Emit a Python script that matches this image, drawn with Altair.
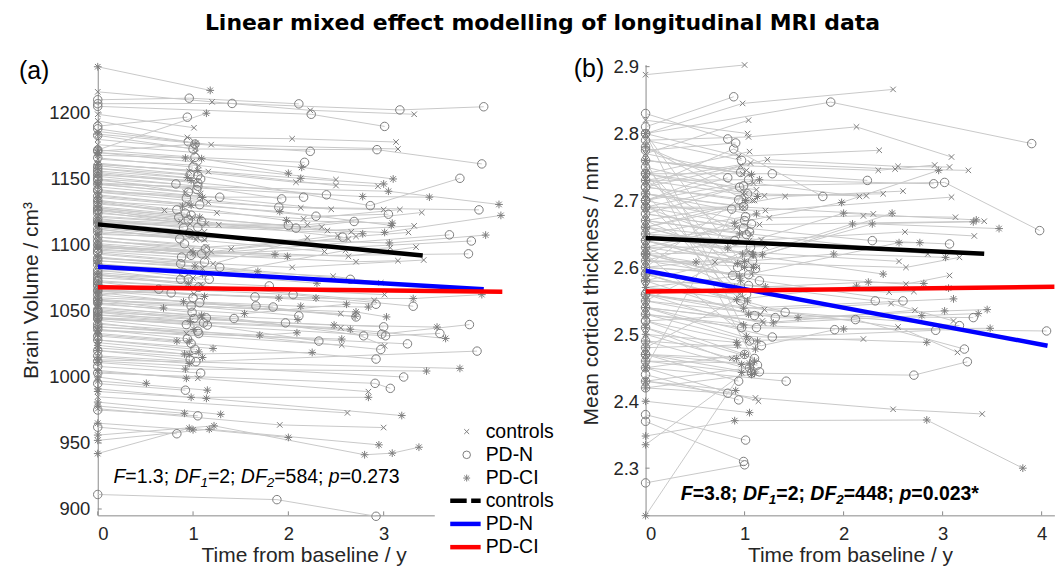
import altair as alt
import pandas as pd

TITLE = "Linear mixed effect modelling of longitudinal MRI data"

# ---------------- Panel (a): brain volume (cm^3) ----------------
A_CONTROLS = [
    ([0, 1.20, 2.23, 3.32], [1216, 1208.4, 1202.0, 1199.0]),
    ([0, 1.01], [1199, 1188.8]),
    ([0, 0.94, 2.04, 3.13], [1194, 1181.5, 1180.5, 1178.0]),
    ([0, 1.19, 3.15], [1186, 1176.0, 1172.7]),
    ([0, 1.02], [1180, 1173.0]),
    ([0, 1.03], [1176, 1170.0]),
    ([0, 0.99], [1170, 1163.0]),
    ([0, 1.06, 2.50], [1165, 1160.2, 1149.5]),
    ([0, 0.96, 2.08, 2.94], [1162, 1155.8, 1147.5, 1144.5]),
    ([0, 1.16, 2.50], [1161, 1155.6, 1145.0]),
    ([0, 1.05], [1155, 1148.0]),
    ([0, 0.92], [1150, 1140.0]),
    ([0, 1.08], [1146, 1139.0]),
    ([0, 1.07, 2.45], [1144, 1137.0, 1127.0]),
    ([0, 1.16, 2.13, 3.00], [1140, 1132.3, 1128.1, 1126.8]),
    ([0, 0.95], [1138, 1131.0]),
    ([0, 0.70], [1133, 1126.2]),
    ([0, 1.25, 2.16, 3.17], [1131, 1124.3, 1119.8, 1126.8]),
    ([0, 0.99, 2.66], [1128, 1121.0, 1110.0]),
    ([0, 1.14, 2.20, 3.40], [1122, 1116.0, 1115.3, 1124.6]),
    ([0, 0.97], [1125, 1116.0]),
    ([0, 1.27, 2.35], [1119, 1115.3, 1113.6]),
    ([0, 0.87], [1127, 1117.9]),
    ([0, 2.41, 3.32], [1121, 1111.0, 1114.5]),
    ([0, 1.12], [1117, 1110.0]),
    ([0, 1.04], [1113, 1106.0]),
    ([0, 1.03, 2.38], [1112, 1104.0, 1095.0]),
    ([0, 1.12], [1109, 1104.0]),
    ([0, 0.98], [1104, 1096.0]),
    ([0, 1.40, 2.52], [1103, 1097.1, 1107.2]),
    ([0, 1.14, 2.63], [1106, 1098.4, 1104.5]),
    ([0, 1.19, 2.71, 3.26], [1101, 1095.0, 1106.5, 1109.5]),
    ([0, 1.15], [1099, 1091.0]),
    ([0, 1.21, 2.20], [1093, 1085.8, 1105.4]),
    ([0, 1.00, 2.60, 3.07], [1084, 1075.0, 1095.9, 1097.9]),
    ([0, 2.63, 3.34], [1098, 1091.4, 1098.4]),
    ([0, 2.71, 3.15], [1096, 1087.3, 1088.1]),
    ([0, 2.04, 3.42], [1090, 1083.0, 1088.6]),
    ([0, 1.10], [1080, 1082.0]),
    ([0, 1.10, 2.90], [1077, 1069.0, 1058.0]),
    ([0, 2.47, 2.97], [1085, 1076.3, 1071.4]),
    ([0, 1.08], [1062, 1070.0]),
    ([0, 1.01], [1068, 1063.0]),
    ([0, 3.01], [1072, 1062.4]),
    ([0, 2.55], [1058, 1048.0]),
    ([0, 1.09], [1053, 1046.0]),
    ([0, 2.55, 3.01], [1045, 1037.2, 1023.6]),
    ([0, 0.93], [1041, 1033.0]),
    ([0, 2.56], [1036, 1024.2]),
    ([0, 1.05, 2.84], [1004, 999.0, 988.9]),
    ([0, 2.62], [985, 972.8]),
    ([0, 1.91, 3.00], [976, 963.7, 961.7]),
]
A_PDN = [
    ([0, 0.96, 2.11], [1210, 1211.2, 1206.9]),
    ([0, 1.41, 3.17, 4.05], [1207, 1207.2, 1202.3, 1204.7]),
    ([0, 2.24, 3.01], [1205, 1199.0, 1189.8]),
    ([0, 0.94], [1190, 1196.8]),
    ([0, 0.95], [1188, 1178.2]),
    ([0, 1.02, 2.23], [1171, 1176.4, 1170.9]),
    ([0, 1.00, 2.93, 4.03], [1183, 1172.7, 1172.2, 1161.4]),
    ([0, 1.02, 2.17], [1172, 1166.4, 1162.6]),
    ([0, 1.00], [1166, 1159.0]),
    ([0, 0.97], [1160, 1153.5]),
    ([0, 1.05, 2.86, 3.80], [1158, 1152.6, 1129.8, 1150.5]),
    ([0, 1.08], [1156, 1150.0]),
    ([0, 1.05, 2.40], [1154, 1147.0, 1138.0]),
    ([0, 0.82], [1150, 1146.2]),
    ([0, 1.04], [1149, 1142.0]),
    ([0, 0.95], [1146, 1140.0]),
    ([0, 1.05, 1.93], [1152, 1144.5, 1134.9]),
    ([0, 0.93, 1.90, 4.00], [1142, 1135.4, 1128.6, 1126.6]),
    ([0, 1.28, 2.16], [1141, 1136.2, 1136.2]),
    ([0, 1.07, 2.29, 3.05], [1137, 1130.5, 1121.8, 1123.3]),
    ([0, 0.83], [1134, 1126.6]),
    ([0, 0.92], [1132, 1124.0]),
    ([0, 0.98], [1129, 1122.6]),
    ([0, 0.85, 2.00], [1127, 1120.9, 1114.8]),
    ([0, 0.95, 2.57], [1126, 1119.0, 1106.0]),
    ([0, 1.09], [1124, 1118.0]),
    ([0, 0.90], [1120, 1113.0]),
    ([0, 1.05, 2.08, 2.69], [1118, 1113.4, 1112.8, 1117.8]),
    ([0, 0.96], [1116, 1109.0]),
    ([0, 1.10], [1110, 1106.0]),
    ([0, 0.86], [1112, 1104.7]),
    ([0, 0.91], [1106, 1100.9]),
    ([0, 1.13], [1103, 1097.0]),
    ([0, 1.09, 3.69], [1100, 1093.3, 1107.7]),
    ([0, 0.98, 3.92], [1097, 1092.2, 1103.0]),
    ([0, 0.88, 3.89], [1095, 1090.8, 1093.3]),
    ([0, 1.12], [1094, 1087.0]),
    ([0, 0.87], [1090, 1085.8]),
    ([0, 1.28, 2.65], [1088, 1083.0, 1074.0]),
    ([0, 0.90], [1085, 1079.0]),
    ([0, 0.87], [1081, 1074.0]),
    ([0, 0.95], [1079, 1074.0]),
    ([0, 1.17], [1077, 1074.0]),
    ([0, 1.80], [1075, 1069.0]),
    ([0, 1.06], [1073, 1068.0]),
    ([0, 0.64], [1072, 1066.5]),
    ([0, 0.77], [1070, 1063.7]),
    ([0, 1.00], [1065, 1060.0]),
    ([0, 1.65, 2.92], [1066, 1060.7, 1055.1]),
    ([0, 2.05, 3.31], [1069, 1062.4, 1053.6]),
    ([0, 1.07, 1.84], [1062, 1056.3, 1053.0]),
    ([0, 0.98, 2.11], [1059, 1053.8, 1046.3]),
    ([0, 1.66, 2.71], [1058, 1053.8, 1045.5]),
    ([0, 0.99], [1056, 1049.0]),
    ([0, 1.01, 1.97, 3.00], [1050, 1044.3, 1041.0, 1038.0]),
    ([0, 1.43, 2.79], [1049, 1044.3, 1031.2]),
    ([0, 1.14, 2.98, 3.90], [1051, 1044.8, 1032.5, 1039.7]),
    ([0, 1.11], [1047, 1041.0]),
    ([0, 0.93, 3.02, 3.59], [1045, 1039.7, 1031.2, 1033.0]),
    ([0, 1.15, 2.32], [1044, 1039.3, 1027.2]),
    ([0, 1.05, 2.97], [1040, 1034.7, 1020.8]),
    ([0, 1.06, 3.25], [1038, 1032.9, 1025.1]),
    ([0, 0.94], [1036, 1029.0]),
    ([0, 0.98, 2.92], [1031, 1025.4, 1013.6]),
    ([0, 1.02], [1028, 1021.0]),
    ([0, 0.97], [1020, 1013.0]),
    ([0, 1.03, 3.98], [1016, 1011.6, 1019.6]),
    ([0, 3.21], [1012, 1000.0]),
    ([0, 1.08], [1008, 1003.0]),
    ([0, 2.91, 3.07], [1003, 995.2, 991.4]),
    ([0, 0.92], [995, 990.0]),
    ([0, 1.05], [975, 970.6]),
    ([0, 0.83], [962, 957.0]),
    ([0, 1.88, 2.92], [911, 907.1, 894.5]),
]
A_PDCI = [
    ([0, 1.18], [1235, 1217.1]),
    ([0, 1.03], [1184, 1177.0]),
    ([0, 1.14], [1172, 1199.8]),
    ([0, 0.92, 2.14, 3.10], [1168, 1165.9, 1158.8, 1150.0]),
    ([0, 1.09, 2.00], [1170, 1165.4, 1154.3]),
    ([0, 1.05, 2.13, 3.00], [1161, 1156.4, 1150.5, 1146.2]),
    ([0, 0.94], [1158, 1151.0]),
    ([0, 0.98], [1153, 1148.8]),
    ([0, 1.10], [1140, 1136.0]),
    ([0, 0.89, 1.98, 3.09], [1133, 1129.4, 1118.6, 1116.5]),
    ([0, 0.98, 1.91, 3.08], [1136, 1130.1, 1125.4, 1114.8]),
    ([0, 1.07], [1128, 1121.0]),
    ([0, 2.78, 3.48], [1147, 1136.7, 1136.2]),
    ([0, 3.05, 4.21], [1146, 1140.7, 1130.7]),
    ([0, 3.01, 4.23], [1118, 1109.5, 1122.4]),
    ([0, 2.78], [1117, 1108.5]),
    ([0, 0.99], [1114, 1107.0]),
    ([0, 3.06, 4.07], [1108, 1101.5, 1107.5]),
    ([0, 1.00], [1100, 1094.0]),
    ([0, 1.86], [1099, 1092.8]),
    ([0, 1.99], [1098, 1091.4]),
    ([0, 1.02], [1091, 1084.0]),
    ([0, 1.68], [1088, 1080.0]),
    ([0, 1.10, 2.30], [1086, 1078.0, 1071.0]),
    ([0, 0.95], [1078, 1071.0]),
    ([0, 1.12], [1070, 1061.0]),
    ([0, 1.90, 3.31, 4.03], [1066, 1059.8, 1059.4, 1062.4]),
    ([0, 2.29], [1065, 1059.8]),
    ([0, 0.90, 2.70], [1064, 1057.0, 1046.0]),
    ([0, 0.69], [1058, 1052.3]),
    ([0, 2.13, 2.84], [1060, 1053.6, 1053.0]),
    ([0, 1.54, 2.61], [1055, 1048.0, 1055.1]),
    ([0, 2.71, 3.03], [1056, 1049.3, 1045.5]),
    ([0, 1.09, 2.10], [1052, 1046.8, 1043.5]),
    ([0, 0.97], [1049, 1042.0]),
    ([0, 2.48, 3.56], [1047, 1039.3, 1037.8]),
    ([0, 2.65, 3.65], [1044, 1036.2, 1029.2]),
    ([0, 1.01], [1043, 1036.0]),
    ([0, 1.70, 2.09], [1038, 1031.7, 1033.5]),
    ([0, 2.56], [1035, 1028.7]),
    ([0, 0.83], [1032, 1027.2]),
    ([0, 0.96], [1033, 1027.2]),
    ([0, 1.21], [1028, 1021.6]),
    ([0, 1.06], [1026, 1019.0]),
    ([0, 0.91, 2.25], [1024, 1017.4, 1018.6]),
    ([0, 0.96], [1022, 1017.1]),
    ([0, 1.10], [1020, 1014.8]),
    ([0, 0.96], [1015, 1010.3]),
    ([0, 0.92, 3.45], [1011, 1006.0, 1004.5]),
    ([0, 3.80], [1013, 1006.5]),
    ([0, 0.93], [1005, 999.0]),
    ([0, 0.51], [1000, 995.2]),
    ([0, 1.15], [997, 990.0]),
    ([0, 0.98, 2.84], [991, 984.6, 984.6]),
    ([0, 1.14, 3.19], [989, 983.8, 970.8]),
    ([0, 0.91], [978, 972.5]),
    ([0, 1.29], [981, 971.7]),
    ([0, 1.00], [965, 960.0]),
    ([0, 0.96, 2.00], [942, 961.2, 954.2]),
    ([0, 1.17, 2.95], [952, 960.4, 948.6]),
    ([0, 1.22, 2.80, 3.09, 3.37], [956, 963.0, 941.1, 942.3, 946.8]),
]
A_FIT = {
    "controls": ([0, 3.41], [1115.6, 1092.0]),
    "PD-N": ([0, 4.05], [1083.5, 1066.5]),
    "PD-CI": ([0, 4.245], [1068.0, 1064.6]),
}
A_XTICKS = [0, 1, 2, 3]
A_YTICKS = [900, 950, 1000, 1050, 1100, 1150, 1200]
A_STATS = [("F", "i"), ("=1.3; ", "n"), ("DF", "i"), ("1", "s"), ("=2; ", "n"),
           ("DF", "i"), ("2", "s"), ("=584; ", "n"), ("p", "i"), ("=0.273", "n")]

# ---------------- Panel (b): mean cortical thickness (mm) ----------------
B_CONTROLS = [
    ([0, 1.00], [2.888, 2.9025]),
    ([0, 0.98, 2.50], [2.80, 2.845, 2.866]),
    ([0, 1.03], [2.82, 2.80]),
    ([0, 1.04], [2.77, 2.82]),
    ([0, 1.04, 2.13, 3.09], [2.79, 2.795, 2.81, 2.765]),
    ([0, 1.05], [2.74, 2.773]),
    ([0, 0.98], [2.77, 2.74]),
    ([0, 0.94, 2.36], [2.80, 2.766, 2.775]),
    ([0, 0.96, 2.35, 2.92], [2.70, 2.752, 2.745, 2.753]),
    ([0, 1.06, 2.52, 3.26], [2.73, 2.756, 2.747, 2.745]),
    ([0, 1.23, 2.55, 3.07], [2.72, 2.761, 2.751, 2.75]),
    ([0, 1.02], [2.76, 2.745]),
    ([0, 1.10], [2.72, 2.70]),
    ([0, 1.00, 2.30], [2.71, 2.69, 2.68]),
    ([0, 1.09, 2.16], [2.68, 2.726, 2.706]),
    ([0, 1.01, 2.23], [2.60, 2.71, 2.707]),
    ([0, 1.12], [2.74, 2.716]),
    ([0, 1.20, 2.40], [2.75, 2.707, 2.71]),
    ([0, 1.41, 2.60], [2.67, 2.706, 2.714]),
    ([0, 1.08], [2.66, 2.70]),
    ([0, 0.97], [2.69, 2.69]),
    ([0, 0.92], [2.68, 2.66]),
    ([0, 1.21, 3.09], [2.69, 2.685, 2.705]),
    ([0, 1.25, 2.20, 3.13], [2.71, 2.674, 2.677, 2.675]),
    ([0, 1.06, 2.85], [2.67, 2.65, 2.62]),
    ([0, 1.05], [2.65, 2.64]),
    ([0, 1.15, 3.42], [2.64, 2.664, 2.669]),
    ([0, 1.17, 2.62, 3.32], [2.66, 2.641, 2.653, 2.647]),
    ([0, 1.21], [2.63, 2.631]),
    ([0, 1.03, 2.56], [2.62, 2.623, 2.609]),
    ([0, 1.13], [2.61, 2.60]),
    ([0, 0.70, 2.63, 3.17], [2.61, 2.608, 2.600, 2.615]),
    ([0, 2.63, 3.07], [2.60, 2.575, 2.588]),
    ([0, 1.07], [2.57, 2.59]),
    ([0, 0.95], [2.57, 2.56]),
    ([0, 2.46, 2.71], [2.58, 2.563, 2.564]),
    ([0, 1.20, 2.48, 3.11], [2.59, 2.537, 2.546, 2.52]),
    ([0, 1.19, 2.72], [2.55, 2.517, 2.536]),
    ([0, 1.18], [2.54, 2.52]),
    ([0, 1.16], [2.52, 2.53]),
    ([0, 2.55, 3.15], [2.56, 2.511, 2.473]),
    ([0, 1.04, 2.20], [2.53, 2.491, 2.493]),
    ([0, 0.87], [2.50, 2.464]),
    ([0, 0.98], [2.45, 2.71]),
    ([0, 1.11, 2.50, 3.40], [2.43, 2.405, 2.388, 2.381]),
    ([0, 1.14], [2.45, 2.40]),
]
B_PDN = [
    ([0, 0.89], [2.81, 2.855]),
    ([0, 0.83], [2.83, 2.792]),
    ([0, 0.91], [2.775, 2.786]),
    ([0, 1.87, 3.90], [2.80, 2.847, 2.785]),
    ([0, 1.05], [2.80, 2.49]),
    ([0, 0.97], [2.79, 2.76]),
    ([0, 0.89, 1.79], [2.72, 2.777, 2.706]),
    ([0, 0.96], [2.76, 2.742]),
    ([0, 0.95], [2.78, 2.72]),
    ([0, 1.28, 2.24], [2.74, 2.74, 2.73]),
    ([0, 1.03], [2.74, 2.71]),
    ([0, 0.83], [2.70, 2.734]),
    ([0, 1.04, 2.91], [2.73, 2.731, 2.725]),
    ([0, 0.99, 3.02, 3.98], [2.69, 2.722, 2.727, 2.655]),
    ([0, 0.94], [2.72, 2.701]),
    ([0, 0.93], [2.75, 2.60]),
    ([0, 0.90], [2.69, 2.64]),
    ([0, 0.87], [2.66, 2.687]),
    ([0, 0.99], [2.71, 2.691]),
    ([0, 1.00], [2.70, 2.67]),
    ([0, 1.01], [2.65, 2.676]),
    ([0, 0.99, 2.29, 3.07], [2.68, 2.659, 2.64, 2.635]),
    ([0, 1.07], [2.63, 2.665]),
    ([0, 1.02], [2.67, 2.649]),
    ([0, 1.05], [2.61, 2.653]),
    ([0, 1.08], [2.64, 2.61]),
    ([0, 1.15, 2.60], [2.62, 2.58, 2.55]),
    ([0, 1.06], [2.55, 2.63]),
    ([0, 1.11], [2.64, 2.598]),
    ([0, 0.88], [2.62, 2.588]),
    ([0, 1.04], [2.60, 2.589]),
    ([0, 0.96], [2.59, 2.55]),
    ([0, 1.04, 2.32], [2.58, 2.573, 2.55]),
    ([0, 1.02], [2.48, 2.56]),
    ([0, 1.10, 3.31], [2.70, 2.528, 2.525]),
    ([0, 1.31, 2.12, 3.22], [2.56, 2.525, 2.522, 2.478]),
    ([0, 1.12], [2.56, 2.51]),
    ([0, 1.41, 3.17], [2.59, 2.533, 2.513]),
    ([0, 1.28, 2.93], [2.54, 2.496, 2.506]),
    ([0, 1.17, 1.91], [2.52, 2.483, 2.507]),
    ([0, 0.97, 4.05], [2.53, 2.51, 2.505]),
    ([0, 1.00], [2.52, 2.47]),
    ([0, 1.10], [2.51, 2.464]),
    ([0, 1.13], [2.47, 2.454]),
    ([0, 1.15], [2.49, 2.444]),
    ([0, 0.94], [2.47, 2.43]),
    ([0, 1.07, 2.71, 3.25], [2.46, 2.442, 2.439, 2.459]),
    ([0, 1.42], [2.45, 2.43]),
    ([0, 1.05], [2.43, 2.45]),
    ([0, 0.83], [2.42, 2.412]),
    ([0, 0.94], [2.44, 2.402]),
    ([0, 1.01], [2.38, 2.342]),
    ([0, 1.00], [2.278, 2.305]),
    ([0, 0.99], [2.37, 2.31]),
]
B_PDCI = [
    ([0, 1.00], [2.80, 2.60]),
    ([0, 1.01], [2.78, 2.70]),
    ([0, 1.10], [2.76, 2.46]),
    ([0, 1.07], [2.76, 2.739]),
    ([0, 1.15], [2.70, 2.731]),
    ([0, 1.13], [2.73, 2.706]),
    ([0, 0.95], [2.73, 2.65]),
    ([0, 0.96], [2.74, 2.58]),
    ([0, 1.03], [2.71, 2.55]),
    ([0, 1.09], [2.67, 2.60]),
    ([0, 0.98, 2.40], [2.66, 2.62, 2.59]),
    ([0, 1.12], [2.62, 2.68]),
    ([0, 0.90, 1.98, 2.96], [2.69, 2.666, 2.697, 2.745]),
    ([0, 0.83, 2.00, 3.34], [2.66, 2.629, 2.681, 2.671]),
    ([0, 1.09, 2.09, 3.31], [2.65, 2.619, 2.665, 2.668]),
    ([0, 1.18, 2.29, 3.57], [2.60, 2.619, 2.665, 2.658]),
    ([0, 0.51], [2.62, 2.608]),
    ([0, 0.90], [2.63, 2.57]),
    ([0, 0.93, 2.49], [2.64, 2.606, 2.681]),
    ([0, 1.00, 1.90, 3.03], [2.63, 2.609, 2.62, 2.615]),
    ([0, 1.08], [2.58, 2.62]),
    ([0, 1.04], [2.58, 2.53]),
    ([0, 0.95, 2.56, 2.77], [2.61, 2.587, 2.637, 2.637]),
    ([0, 1.21, 2.25, 2.81], [2.59, 2.571, 2.578, 2.576]),
    ([0, 0.92, 2.13, 3.06], [2.57, 2.552, 2.572, 2.569]),
    ([0, 0.99, 3.11], [2.56, 2.539, 2.553]),
    ([0, 1.54, 3.02, 3.45], [2.55, 2.525, 2.535, 2.537]),
    ([0, 1.13], [2.54, 2.49]),
    ([0, 1.29, 2.79, 3.36], [2.54, 2.517, 2.528, 2.531]),
    ([0, 0.99, 2.00, 3.48], [2.53, 2.514, 2.508, 2.509]),
    ([0, 1.02, 2.84], [2.62, 2.497, 2.488]),
    ([0, 0.97], [2.51, 2.455]),
    ([0, 0.92], [2.50, 2.488]),
    ([0, 0.93], [2.48, 2.484]),
    ([0, 1.11], [2.49, 2.478]),
    ([0, 0.92], [2.47, 2.464]),
    ([0, 1.05], [2.46, 2.457]),
    ([0, 1.00], [2.45, 2.47]),
    ([0, 0.97], [2.229, 2.443]),
    ([0, 1.10], [2.47, 2.442]),
    ([0, 1.07], [2.42, 2.44]),
    ([0, 0.91], [2.43, 2.416]),
    ([0, 1.05], [2.40, 2.383]),
    ([0, 0.90, 2.84, 3.81], [2.348, 2.371, 2.372, 2.30]),
    ([0, 1.06], [2.335, 2.45]),
]
B_FIT = {
    "controls": ([0, 3.42], [2.644, 2.6205]),
    "PD-N": ([0, 4.06], [2.595, 2.483]),
    "PD-CI": ([0, 4.16], [2.564, 2.571]),
}
B_XTICKS = [0, 1, 2, 3, 4]
B_YTICKS = [2.3, 2.4, 2.5, 2.6, 2.7, 2.8, 2.9]
B_STATS = [("F", "i"), ("=3.8; ", "n"), ("DF", "i"), ("1", "s"), ("=2; ", "n"),
           ("DF", "i"), ("2", "s"), ("=448; ", "n"), ("p", "i"), ("=0.023*", "n")]

GROUPS = ["controls", "PD-N", "PD-CI"]

# ---------------- styling ----------------
FONT = "Liberation Sans"
GREY_LINE = "#c9c9c9"
GREY_MARK = "#7d7d7d"
AXIS_GREY = "#8a8a8a"
TXT = "#262626"
FIT_COLORS = ["#000000", "#0000ff", "#ff0000"]
SHAPES = {
    "controls": "M-1,-1L1,1M-1,1L1,-1",
    "PD-N": "circle",
    "PD-CI": "M0,-1L0,1M-1,0L1,0M-0.72,-0.72L0.72,0.72M-0.72,0.72L0.72,-0.72",
}
SIZES = {"controls": 30, "PD-N": 72, "PD-CI": 60}

W_REG = {"F": .611, "D": .722, "p": .556, "=": .584, ".": .278, ";": .278, " ": .278, "*": .389}
W_BOLD = {"F": .611, "D": .722, "p": .611, "=": .584, ".": .278, ";": .333, " ": .278, "*": .389}


def traj_frame(groups_lists):
    rows = []
    sid = 0
    for g, lst in zip(GROUPS, groups_lists):
        for ts, vs in lst:
            sid += 1
            for t, v in zip(ts, vs):
                rows.append({"id": sid, "g": g, "t": t, "v": v})
    return pd.DataFrame(rows)


def fit_frame(fit):
    rows = []
    for g in GROUPS:
        ts, vs = fit[g]
        for t, v in zip(ts, vs):
            rows.append({"g": g, "t": t, "v": v})
    return pd.DataFrame(rows)


def text_layer(s, x, y, size, align="left", baseline="middle", style="normal", weight="normal",
               font=FONT):
    return alt.Chart(pd.DataFrame({"s": [s]})).mark_text(
        align=align, baseline=baseline, font=font, fontSize=size, fontStyle=style,
        fontWeight=weight, color="black").encode(x=alt.value(x), y=alt.value(y), text="s:N")


def stat_layers(pieces, x0, y0, size, sub_size, bold):
    wt = W_BOLD if bold else W_REG
    x = x0
    layers = []
    for text, kind in pieces:
        fs = sub_size if kind == "s" else size
        layers.append(text_layer(text, x, y0 + (4 if kind == "s" else 0), fs, baseline="alphabetic",
                                 style="italic" if kind in ("i", "s") else "normal",
                                 weight="bold" if bold else "normal"))
        x += sum(wt.get(c, .556) for c in text) * fs
    return layers


def panel(lists, fit, xdom, ydom, w, h, xticks, yticks, yfmt, ytitle, lab_pad, title_pad,
          tag, tag_x, tag_y, stats, stats_x, stats_y, stats_bold, legend=False, title=False):
    df = traj_frame(lists)
    fdf = fit_frame(fit)
    xs = alt.Scale(domain=xdom, nice=False, zero=False)
    ys = alt.Scale(domain=ydom, nice=False, zero=False)
    X = alt.X("t:Q", scale=xs, axis=alt.Axis(values=xticks, format="d", title="Time from baseline / y",
                                           labelPadding=9, titlePadding=2))
    Y = alt.Y("v:Q", scale=ys, axis=alt.Axis(values=yticks, format=yfmt, title=ytitle,
                                           labelPadding=lab_pad, titlePadding=title_pad))
    base = alt.Chart(df)
    layers = [base.mark_line(color=GREY_LINE, strokeWidth=1).encode(x=X, y=Y, detail="id:N", order="t:Q")]
    for g in GROUPS:
        layers.append(
            base.transform_filter(alt.datum.g == g).mark_point(
                shape=SHAPES[g], size=SIZES[g], filled=False, color=GREY_MARK,
                strokeWidth=1, opacity=1).encode(x=X, y=Y)
        )
    layers.append(
        alt.Chart(fdf).mark_line(strokeWidth=4.5, clip=True).encode(
            x=X, y=Y, detail="g:N",
            color=alt.Color("g:N", scale=alt.Scale(domain=GROUPS, range=FIT_COLORS), legend=None))
    )
    # inward tick marks
    layers.append(alt.Chart(pd.DataFrame({"v": yticks})).mark_rule(color=AXIS_GREY, strokeWidth=1).encode(
        y=Y, x=alt.value(0), x2=alt.value(4)))
    layers.append(alt.Chart(pd.DataFrame({"t": xticks})).mark_rule(color=AXIS_GREY, strokeWidth=1).encode(
        x=X, y=alt.value(h), y2=alt.value(h - 4)))
    layers += stat_layers(stats, stats_x, stats_y, 19.5, 13.5, stats_bold)
    layers.append(text_layer(tag, tag_x, tag_y, 25))
    if title:
        # figure title, centred over the whole figure
        layers.append(text_layer(TITLE, 446, -41.5, 22, align="center", weight="bold",
                                 font="DejaVu Sans"))
    if legend:
        lx = 370
        layers.append(alt.Chart(pd.DataFrame({"a": [0]})).mark_rect(color="white").encode(
            x=alt.value(338), x2=alt.value(470), y=alt.value(356), y2=alt.value(460)))
        for i, g in enumerate(GROUPS):
            layers.append(alt.Chart(pd.DataFrame({"a": [0]})).mark_point(
                shape=SHAPES[g], size=SIZES[g] * 0.8, filled=False, color=GREY_MARK,
                strokeWidth=1, opacity=1).encode(x=alt.value(lx), y=alt.value(368 + 23.3 * i)))
            layers.append(text_layer(g, 389, 368 + 23.3 * i, 19.5))
        for i, (g, c) in enumerate(zip(GROUPS, FIT_COLORS)):
            yy = 437.3 + 23.3 * i
            kw = {"strokeDash": [16.5, 4.5]} if i == 0 else {}
            layers.append(alt.Chart(pd.DataFrame({"a": [0]})).mark_rule(
                color=c, strokeWidth=4.5, **kw).encode(
                x=alt.value(353.5), x2=alt.value(384), y=alt.value(yy)))
            layers.append(text_layer(g, 389, yy, 19.5))
    return alt.layer(*layers).properties(width=w, height=h)


left = panel([A_CONTROLS, A_PDN, A_PDCI], A_FIT, [0, 4.321], [895.2, 1236.6], 413, 452,
             A_XTICKS, A_YTICKS, "d", "Brain Volume / cm³", 8, 7,
             "(a)", -79, 6, A_STATS, 15.7, 420, False, legend=True, title=True)
right = panel([B_CONTROLS, B_PDN, B_PDCI], B_FIT, [0, 4.129], [2.2295, 2.903], 410, 452,
              B_XTICKS, B_YTICKS, ".1f", "Mean cortical thickness / mm", 7, 11,
              "(b)", -72, 4, B_STATS, 35.3, 436.7, True)

chart = alt.hconcat(left, right, spacing=136.4, bounds="flush").configure(
    padding={"left": 11, "top": 3, "right": 0, "bottom": 0}
).configure_view(
    stroke=None
).configure_axis(
    labelFont=FONT, titleFont=FONT, labelFontSize=18.5, titleFontSize=21, titleFontWeight="normal",
    labelColor=TXT, titleColor=TXT, domainColor=AXIS_GREY, domainWidth=1, ticks=False, tickSize=0,
    grid=False
)

chart.save("out.html", embed_options={"renderer": "svg", "actions": False})
